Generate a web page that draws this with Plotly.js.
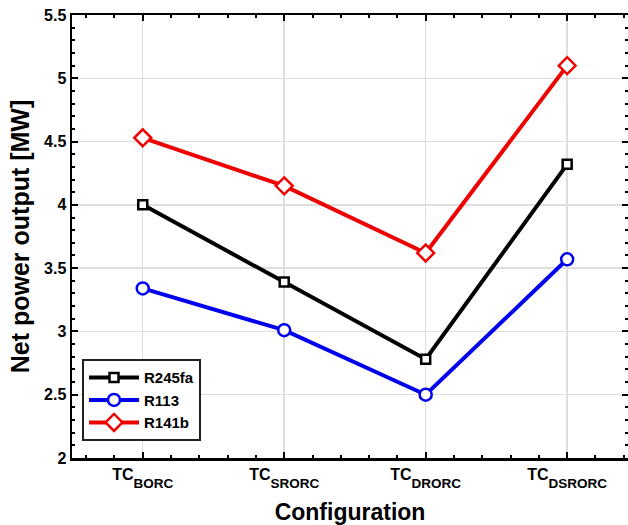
<!DOCTYPE html>
<html><head><meta charset="utf-8">
<script src="https://cdn.plot.ly/plotly-3.0.1.min.js"></script>
<style>html,body{margin:0;padding:0;overflow:hidden;background:#fff}</style>
</head><body><div id="chart" style="width:628px;height:525px"></div>
<script>
const configs = ["BORC", "SRORC", "DRORC", "DSRORC"];
const xPos = [0, 1, 2, 3];
const r245fa = [4.00, 3.39, 2.78, 4.32];
const r113 = [3.34, 3.01, 2.50, 3.57];
const r141b = [4.53, 4.15, 3.62, 5.10];
const yTicks = [2, 2.5, 3, 3.5, 4, 4.5, 5, 5.5];
const yTickText = ["2", "2.5", "3", "3.5", "4", "4.5", "5", "5.5"];

const tickText = configs.map(c => 'TC<sub><span style="font-size:13.5px;baseline-shift:-5px">' + c + '</span></sub>');

function tr(name, y, color, symbol, size) {
  return {x: xPos, y: y, name: name, type: 'scatter', mode: 'lines+markers',
    line: {color: color, width: 4},
    marker: {symbol: symbol, size: size, color: '#fff', line: {color: color, width: 2.5}}};
}
const data = [
  tr('R245fa', r245fa, '#000000', 'square', 9),
  tr('R113', r113, '#0000ee', 'circle', 12),
  tr('R141b', r141b, '#ee0000', 'diamond', 13)
];
const fam = 'Liberation Sans, Arial, sans-serif';
const layout = {
  width: 628, height: 525,
  margin: {l: 72, r: 0, t: 15, b: 67},
  paper_bgcolor: '#fff', plot_bgcolor: '#fff',
  font: {family: fam, size: 16, color: '#000', weight: 'bold'},
  showlegend: true,
  legend: {x: 0.018, y: 0.038, xanchor: 'left', yanchor: 'bottom',
    bordercolor: '#222', borderwidth: 2, bgcolor: '#fff',
    font: {family: fam, size: 15, weight: 'bold', color: '#000'},
    tracegroupgap: 0, itemwidth: 50},
  xaxis: {
    range: [-0.5, 3.43], tickmode: 'array', tickvals: xPos, ticktext: tickText,
    ticks: 'inside', ticklen: 6, tickwidth: 2, tickcolor: '#000',
    showline: true, linecolor: '#000', linewidth: 2.5, mirror: 'ticks',
    showgrid: true, gridcolor: '#dedede', gridwidth: 1.5, zeroline: false,
    minor: {dtick: 0.2, tick0: 0, ticks: 'inside', ticklen: 3, tickwidth: 2, tickcolor: '#000', showgrid: false},
    tickfont: {family: fam, size: 16, weight: 'bold', color: '#000'},
    title: {text: 'Configuration', font: {family: fam, size: 23, weight: 'bold', color: '#000'}, standoff: 14}
  },
  yaxis: {
    range: [2, 5.5], tickmode: 'array', tickvals: yTicks, ticktext: yTickText,
    ticks: 'inside', ticklen: 6, tickwidth: 2, tickcolor: '#000',
    showline: true, linecolor: '#000', linewidth: 2.5, mirror: 'ticks',
    showgrid: true, gridcolor: '#dedede', gridwidth: 1.5, zeroline: false,
    minor: {dtick: 0.1, tick0: 2, ticks: 'inside', ticklen: 3, tickwidth: 2, tickcolor: '#000', showgrid: false},
    tickfont: {family: fam, size: 16, weight: 'bold', color: '#000'},
    title: {text: 'Net power output [MW]', font: {family: fam, size: 25, weight: 'bold', color: '#000'}, standoff: 8}
  }
};
Plotly.newPlot('chart', data, layout, {displayModeBar: false, staticPlot: true});
</script></body></html>
